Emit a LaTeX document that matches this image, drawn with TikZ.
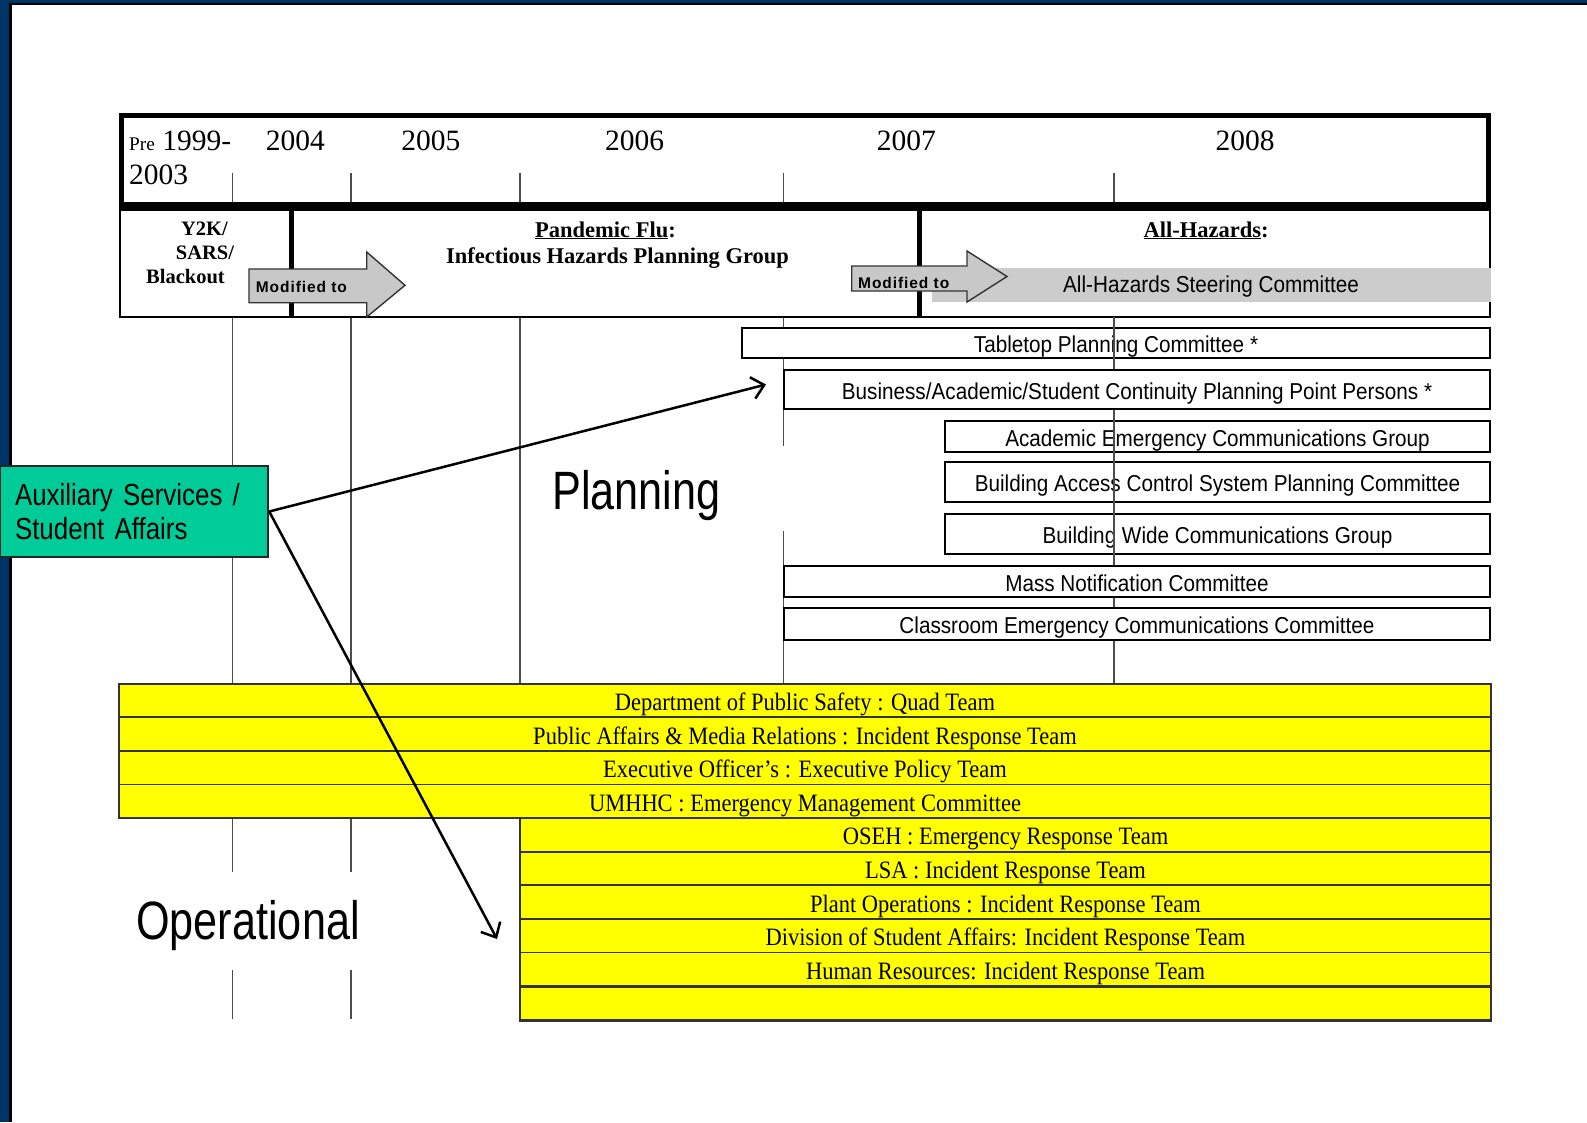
\documentclass[tikz,border=0pt]{standalone}
\usepackage{fontspec}
\setmainfont{Liberation Serif}
\newfontfamily\arialfont{Liberation Sans}
\newfontfamily\arialnar[FakeStretch=0.9]{Liberation Sans}
\newfontfamily\timesnar[FakeStretch=0.9]{Liberation Serif}
\newfontfamily\arialcond[FakeStretch=0.8]{Liberation Sans}
\newfontfamily\arialaux[FakeStretch=0.85]{Liberation Sans}
\newfontfamily\modfont[LetterSpace=6]{Liberation Sans}
\usetikzlibrary{arrows.meta}
\newcommand\fsz[1]{\fontsize{#1}{#1}\selectfont}
\definecolor{framenavy}{HTML}{003366}
\definecolor{rowyellow}{HTML}{FFFF00}
\definecolor{rowline}{HTML}{333333}
\definecolor{auxgreen}{HTML}{00CC99}
\definecolor{bandgray}{HTML}{CCCCCC}
\definecolor{arrowgray}{HTML}{C8C8C8}
\definecolor{linegray}{HTML}{4D4D4D}
\tikzset{
  vline/.style={draw=linegray, line width=1.3pt},
  yearlbl/.style={font=\fsz{29.5}, inner sep=0pt, anchor=base},
  grouplbl/.style={font=\bfseries\fsz{22.5}, inner sep=0pt, anchor=base},
  eralbl/.style={font=\bfseries\fsz{20.5}, inner sep=0pt, anchor=base},
  modlbl/.style={font=\modfont\bfseries\fsz{15.5}, inner sep=0pt, anchor=base west},
  modarrow/.style={fill=arrowgray, draw=rowline, line width=1.4pt, line join=miter},
  pbox/.style={draw=black, line width=2.5pt, fill=white, inner sep=0pt,
    text height=19pt, text depth=0pt, font=\arialnar\fsz{23}},
  yrow/.style={draw=rowline, line width=1.8pt, fill=rowyellow, inner sep=0pt,
    minimum height=33.6pt, text height=20pt, text depth=0pt,
    font=\timesnar\fsz{25}},
  toprow/.style={yrow, minimum width=1372pt},
  lowrow/.style={yrow, minimum width=971pt},
  conn/.style={draw=black, line width=2.5pt,
    -{Straight Barb[length=12pt, width=22pt]}},
  biglbl/.style={font=\arialcond\fsz{54}, inner sep=0pt, anchor=base},
}
\begin{document}
\begin{tikzpicture}[x=1pt, y=-1pt]
% page and frame
\fill[white] (0,0) rectangle (1587,1122);
\useasboundingbox (0,0) rectangle (1587,1122);
\fill[framenavy] (0,0) rectangle (1587,2.5);
\fill[black] (0,2.5) rectangle (1587,4.5);
\fill[framenavy] (0,0) rectangle (9,1122);
\fill[black] (9,4.5) rectangle (12,1122);

% year grid lines
\foreach \gx in {232.8,351} {
  \draw[vline] (\gx,173) -- (\gx,203);
  \draw[vline] (\gx,317) -- (\gx,684);
  \draw[vline] (\gx,818) -- (\gx,872);
  \draw[vline] (\gx,970) -- (\gx,1019);
}
\draw[vline] (520,173) -- (520,203);
\draw[vline] (520,317) -- (520,684);
\draw[vline] (783.5,173) -- (783.5,203);
\draw[vline] (783.5,317) -- (783.5,446);
\draw[vline] (783.5,531) -- (783.5,684);
\draw[vline] (1114,173) -- (1114,203);

% year row
\draw[line width=5pt] (121.5,115) rectangle (1488.5,206.5);
\draw[line width=9pt] (119,206.5) -- (1491,206.5);
\node[yearlbl, anchor=base west] (y1999) at (129,150)
  {{\fsz{19.3}Pre} 1999-};
\node[yearlbl, anchor=base west] (y2003) at (129,184) {2003};
\node[yearlbl] (y2004) at (295.3,150) {2004};
\node[yearlbl] (y2005) at (430.8,150) {2005};
\node[yearlbl] (y2006) at (634.7,150) {2006};
\node[yearlbl] (y2007) at (906.3,150) {2007};
\node[yearlbl] (y2008) at (1245,150) {2008};

% planning-group row
\draw[line width=2.5pt] (120.2,206.5) rectangle (1489.8,317);
\draw[line width=5pt] (291.2,206.5) -- (291.2,317);
\draw[line width=5pt] (919.5,206.5) -- (919.5,317);
\fill[bandgray] (932,268) rectangle (1491,302);
\node[font=\arialnar\fsz{23}, inner sep=0pt, text height=16pt, text depth=0pt]
  (steer) at (1211,284.5) {All-Hazards Steering Committee};
\draw[modarrow] (249,269) -- (366.7,269) -- (366.7,252) -- (405,285.3)
  -- (366.7,317) -- (366.7,302.7) -- (249,302.7) -- cycle;
\draw[modarrow] (851.7,266) -- (967,266) -- (967,251) -- (1007,276.5)
  -- (967,302) -- (967,291) -- (851.7,291) -- cycle;
\node[modlbl] (mod1) at (255.7,292) {Modified to};
\node[modlbl] (mod2) at (858,288.5) {Modified to};
\node[eralbl] (y2k) at (204.5,235) {Y2K/};
\node[eralbl] (sars) at (205,259) {SARS/};
\node[eralbl] (blackout) at (185.5,283) {Blackout};
\node[grouplbl] (panflu) at (605.5,237) {\underline{Pandemic Flu}:};
\node[grouplbl] (infect) at (617.5,263) {Infectious Hazards Planning Group};
\node[grouplbl] (allhaz) at (1206,237) {\underline{All-Hazards}:};

% planning committees
\node[pbox, minimum width=748pt, minimum height=30pt] (tabletop) at (1116,343)
  {Tabletop Planning Committee *};
\node[pbox, minimum width=545pt, minimum height=31pt] (acadcomm) at (1217.5,436.5)
  {Academic Emergency Communications Group};
\node[pbox, minimum width=545pt, minimum height=40pt] (access) at (1217.5,482)
  {Building Access Control System Planning Committee};
\node[pbox, minimum width=545pt, minimum height=40pt] (bldgwide) at (1217.5,534)
  {Building Wide Communications Group};
\draw[vline] (1114,317) -- (1114,684);
\node[pbox, minimum width=706pt, minimum height=39pt] (continuity) at (1137,389.5)
  {Business/Academic/Student Continuity Planning Point Persons *};
\node[pbox, minimum width=706pt, minimum height=31pt] (massnote) at (1137,581.5)
  {Mass Notification Committee};
\node[pbox, minimum width=706pt, minimum height=32pt] (classroom) at (1137,624)
  {Classroom Emergency Communications Committee};

% operational teams
\node[toprow] (dps) at (805,700.4) {Department of Public Safety : Quad Team};
\node[toprow] (pamr) at (805,734) {Public Affairs \& Media Relations : Incident Response Team};
\node[toprow] (exec) at (805,767.6) {Executive Officer’s : Executive Policy Team};
\node[toprow] (umhhc) at (805,801.2) {UMHHC : Emergency Management Committee};
\node[lowrow] (oseh) at (1005.5,834.8) {OSEH : Emergency Response Team};
\node[lowrow] (lsa) at (1005.5,868.4) {LSA : Incident Response Team};
\node[lowrow] (plant) at (1005.5,902) {Plant Operations : Incident Response Team};
\node[lowrow] (dsa) at (1005.5,935.6) {Division of Student Affairs: Incident Response Team};
\node[lowrow] (hr) at (1005.5,969.2) {Human Resources: Incident Response Team};
\node[lowrow] (spare) at (1005.5,1002.8) {};
\draw[rowline, line width=3pt] (hr.south west) -- (hr.south east);
\draw[rowline, line width=2.5pt] (spare.south west) -- (spare.south east);

% section labels
\node[biglbl] (planlbl) at (636.5,509.3) {Planning};
\node[biglbl] (oplbl) at (248,939) {Operational};

% auxiliary services link
\node[draw=black!85, line width=2.5pt, fill=auxgreen, minimum width=268pt,
  minimum height=91pt, text width=238pt, align=left, inner sep=0pt,
  font=\arialaux\fontsize{30.5}{34}\selectfont] (aux) at (134,511.5)
  {Auxiliary Services /\\Student Affairs};
\coordinate (plantip) at (766,384.5);
\coordinate (optip) at (497,939);
\draw[conn] (aux.east) -- (plantip);
\draw[conn] (aux.east) -- (optip);
\end{tikzpicture}
\end{document}
